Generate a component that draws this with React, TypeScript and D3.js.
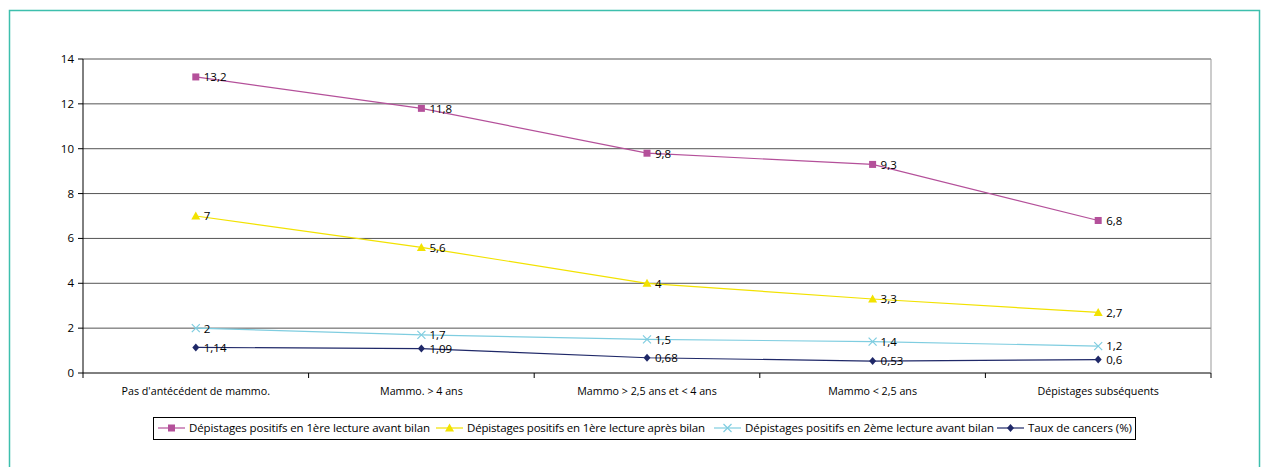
import React from "react";
import * as d3 from "d3";

const categories = [
  "Pas d'antécédent de mammo.",
  "Mammo. > 4 ans",
  "Mammo > 2,5 ans et < 4 ans",
  "Mammo < 2,5 ans",
  "Dépistages subséquents",
];
const seriesNames = [
  "Dépistages positifs en 1ère lecture avant bilan",
  "Dépistages positifs en 1ère lecture après bilan",
  "Dépistages positifs en 2ème lecture avant bilan",
  "Taux de cancers (%)",
];
const s1 = [13.2, 11.8, 9.8, 9.3, 6.8];
const s2 = [7, 5.6, 4, 3.3, 2.7];
const s3 = [2, 1.7, 1.5, 1.4, 1.2];
const s4 = [1.14, 1.09, 0.68, 0.53, 0.6];
const yTicks = [0, 2, 4, 6, 8, 10, 12, 14];

const colors = ["#b4509a", "#f2e200", "#7fcde0", "#1f2868"];
const markers = ["square", "triangle", "x", "diamond"];
const allSeries = [s1, s2, s3, s4];

const fmt = (v: number) => String(v).replace(".", ",");

function Marker({ type, x, y, color }: { type: string; x: number; y: number; color: string }) {
  if (type === "square") return <rect x={x - 3.5} y={y - 3.5} width={7} height={7} fill={color} />;
  if (type === "triangle")
    return <path d={`M${x},${y - 4.5}L${x + 4.5},${y + 3.5}L${x - 4.5},${y + 3.5}Z`} fill={color} />;
  if (type === "x")
    return (
      <path d={`M${x - 4},${y - 4}L${x + 4},${y + 4}M${x - 4},${y + 4}L${x + 4},${y - 4}`} stroke={color} strokeWidth={1.2} fill="none" />
    );
  return <path d={`M${x},${y - 4}L${x + 3.5},${y}L${x},${y + 4}L${x - 3.5},${y}Z`} fill={color} />;
}

export default function App() {
  const W = 1262, H = 467;
  const left = 83, right = 1211, top = 59, bottom = 373;
  const x = d3.scaleBand<string>().domain(categories).range([left, right]);
  const y = d3.scaleLinear().domain([0, 14]).range([bottom, top]);
  const cx = (c: string) => (x(c) as number) + x.bandwidth() / 2;
  const font = "'Open Sans', sans-serif";
  const line = d3.line<number>().x((_, i) => cx(categories[i])).y((d) => y(d));

  const legendX = [158, 436, 714, 997];
  const legendW = [241, 238, 249, 104];
  const legendY = 428;

  return (
    <svg width={W} height={H} style={{ position: "absolute", left: 0, top: 0 }} fontFamily={font}>
      <rect x={0} y={0} width={W} height={H} fill="#fff" />
      <rect x={9.5} y={10.5} width={1250} height={470} fill="none" stroke="#3dbfad" strokeWidth={1.5} />
      {yTicks.map((t) => (
        <g key={t}>
          <line x1={left} x2={right} y1={y(t)} y2={y(t)} stroke={t === 0 ? "#000" : "#555"} strokeWidth={1} />
          <line x1={left - 5} x2={left} y1={y(t)} y2={y(t)} stroke="#000" />
          <text x={left - 9} y={y(t)} dy="0.35em" textAnchor="end" fontSize={11.5} fill="#000">
            {t}
          </text>
        </g>
      ))}
      <line x1={left} x2={left} y1={top} y2={bottom} stroke="#000" />
      <line x1={right} x2={right} y1={top} y2={bottom} stroke="#999" />
      {categories.map((c) => (
        <g key={c}>
          <line x1={x(c) as number} x2={x(c) as number} y1={bottom} y2={bottom + 5} stroke="#000" />
          <text x={cx(c)} y={bottom + 22} textAnchor="middle" fontSize={10.7} fill="#000">
            {c}
          </text>
        </g>
      ))}
      <line x1={right} x2={right} y1={bottom} y2={bottom + 5} stroke="#000" />
      {allSeries.map((s, si) => (
        <g key={si}>
          <path d={line(s) as string} fill="none" stroke={colors[si]} strokeWidth={1.2} />
          {s.map((v, i) => (
            <g key={i}>
              <Marker type={markers[si]} x={cx(categories[i])} y={y(v)} color={colors[si]} />
              <text x={cx(categories[i]) + 8} y={y(v)} dy="0.38em" fontSize={11.5} fill="#000">
                {fmt(v)}
              </text>
            </g>
          ))}
        </g>
      ))}
      <rect x={153.5} y={417.5} width={982} height={22} fill="#fff" stroke="#000" />
      {seriesNames.map((n, i) => (
        <g key={n}>
          <line x1={legendX[i]} x2={legendX[i] + 27} y1={legendY} y2={legendY} stroke={colors[i]} strokeWidth={1.2} />
          <Marker type={markers[i]} x={legendX[i] + 13.5} y={legendY} color={colors[i]} />
          <text
            x={legendX[i] + 31}
            y={legendY}
            dy="0.36em"
            fontSize={11.5}
            fill="#000"
            textLength={legendW[i]}
            lengthAdjust="spacing"
          >
            {n}
          </text>
        </g>
      ))}
    </svg>
  );
}
